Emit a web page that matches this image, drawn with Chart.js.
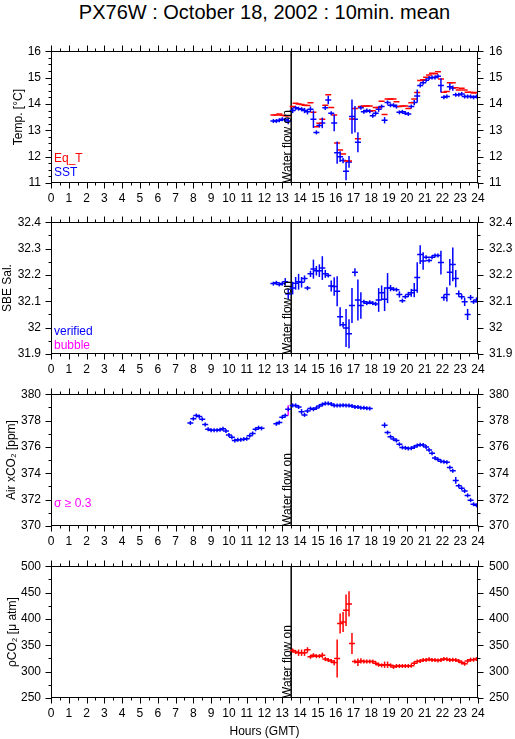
<!DOCTYPE html>
<html>
<head>
<meta charset="utf-8">
<script src="https://cdn.jsdelivr.net/npm/chart.js@4.4.1/dist/chart.umd.min.js"></script>
<style>
  body { margin: 0; background: #fff; width: 515px; height: 739px; position: relative; overflow: hidden;
         font-family: "Liberation Sans", Arial, sans-serif; }
  canvas { position: absolute; left: 0; }
  #title { position: absolute; left: 51px; width: 427px; top: 0; text-align: center; font-size: 20px; line-height: 24px; }
</style>
</head>
<body>
<div id="title">PX76W : October 18, 2002 : 10min. mean</div>
<canvas id="temp" width="515" height="174" style="top:33px"></canvas>
<canvas id="sal" width="515" height="174" style="top:204px"></canvas>
<canvas id="air" width="515" height="174" style="top:376px"></canvas>
<canvas id="pco2" width="515" height="191" style="top:548px"></canvas>
<script>
// times are minutes GMT (10 min means)
const tsTime = [750, 760, 770, 780, 790, 800,
  815, 825, 835, 845, 855, 865, 875, 885, 895, 905, 915, 925, 935, 945, 955, 965, 975, 985, 995, 1005,
  1015, 1025, 1035, 1045, 1055, 1065, 1075, 1085, 1095, 1105, 1115, 1125, 1135, 1145, 1155, 1165, 1175, 1185,
  1195, 1205, 1215, 1225, 1235, 1245, 1255, 1265, 1275, 1285, 1295, 1305, 1315, 1325, 1335, 1345, 1355, 1365,
  1375, 1385, 1395, 1405, 1415, 1425, 1435];

const sst = [13.35, 13.35, 13.38, 13.42, 13.40, 13.35,
  13.75, 13.85, 13.82, 13.80, 13.75, 13.70, 13.80, 13.42, 12.92, 13.18,
  13.28, 13.85, 14.15, 13.65, 13.28, 12.15, 12.00, 11.85, 11.45, 11.80,
  13.52, 13.42, 12.55, 13.85, 13.70, 13.75, 13.72, 13.55, 13.65, 13.80,
  13.90, 13.38, 14.05, 13.95, 13.95, 13.90, 13.68, 13.70, 13.65, 13.62,
  13.90, 14.05, 14.30, 14.70, 14.80, 14.90, 14.98, 15.00, 15.00, 15.05,
  14.70, 14.25, 14.28, 14.65, 14.60, 14.35, 14.35, 14.38, 14.28, 14.28,
  14.28, 14.25, 14.28];
const sstErr = [0, 0, 0, 0, 0, 0.12,
  0.1, 0, 0, 0.08, 0.1, 0.1, 0.1, 0.33, 0, 0,
  0.2, 0.08, 0.16, 0, 0.32, 0.42, 0.2, 0.1, 0.35, 0.22,
  0.65, 0.5, 0.38, 0, 0, 0, 0, 0.06, 0, 0.1,
  0, 0.12, 0.08, 0, 0, 0, 0, 0, 0, 0,
  0, 0.1, 0.25, 0.08, 0, 0, 0, 0, 0, 0,
  0.27, 0, 0, 0.13, 0.1, 0, 0, 0, 0, 0,
  0, 0, 0];
const eqT = [13.58, 13.58, 13.62, 13.57, 13.55, 13.55,
  13.90, 14.03, 14.00, 13.98, 13.95, 13.94, 14.04, 13.68, 13.13, 13.27,
  13.42, 13.95, 14.35, 13.86, 13.58, 12.52, 12.25, 12.10, 11.83, 11.83,
  13.43, 13.83, 12.68, 13.90, 13.92, 13.92, 13.92, 13.74, 13.86, 13.86,
  14.10, 13.60, 14.19, 14.19, 14.19, 14.08, 13.90, 13.92, 13.92, 13.83,
  14.04, 14.19, 14.43, 14.89, 14.92, 15.01, 15.10, 15.16, 15.14, 15.22,
  14.95, 14.44, 14.47, 14.80, 14.80, 14.61, 14.53, 14.59, 14.53, 14.44,
  14.44, 14.41, 14.43];

const sal = [32.167, 32.170, 32.164, 32.167, 32.174, 32.128,
  32.150, 32.168, 32.174, 32.172, 32.186, 32.150, 32.204, 32.222, 32.216, 32.216,
  32.226, 32.204, 32.198, 32.158, 32.156, 32.138, 32.041, 32.011, 31.999, 31.977,
  32.084, 32.210, 32.105, 32.084, 32.098, 32.093, 32.096, 32.093, 32.090, 32.105,
  32.132, 32.108, 32.150, 32.150, 32.146, 32.144, 32.126, 32.102, 32.117, 32.126,
  32.132, 32.142, 32.190, 32.277, 32.253, 32.267, 32.255, 32.267, 32.274, 32.274,
  32.247, 32.114, 32.126, 32.210, 32.240, 32.186, 32.129, 32.117, 32.098, 32.050,
  32.114, 32.098, 32.105];
const salErr = [0, 0, 0, 0, 0.014, 0.02,
  0.024, 0.024, 0.03, 0.02, 0.012, 0.008, 0.012, 0.036, 0.018, 0.024,
  0.045, 0.015, 0, 0.021, 0.035, 0.057, 0.036, 0.01, 0.072, 0.055,
  0.066, 0.015, 0.078, 0.05, 0, 0, 0, 0, 0.008, 0.045,
  0.028, 0.045, 0.057, 0.012, 0, 0, 0.012, 0.008, 0, 0.01,
  0.015, 0.027, 0.058, 0.036, 0.033, 0, 0, 0, 0, 0,
  0.045, 0.012, 0.027, 0.05, 0.064, 0.033, 0.012, 0.01, 0.016, 0.021,
  0.01, 0.008, 0.01];

const airTime = [470, 480, 490, 500, 510, 520, 530, 540, 550, 560, 570, 580, 590, 600, 610, 620, 630, 640,
  650, 660, 670, 680, 690, 700, 710,
  760, 770, 780, 790, 800,
  815, 825, 835, 845, 855, 865, 875, 885, 895, 905, 915, 925, 935, 945, 955, 965, 975, 985, 995, 1005,
  1015, 1025, 1035, 1045, 1055, 1065, 1075,
  1125, 1135, 1145, 1155, 1165, 1175, 1185, 1195, 1205, 1215, 1225, 1235, 1245, 1255, 1265, 1275, 1285,
  1295, 1305, 1315, 1325, 1335, 1345, 1355, 1365, 1375, 1385, 1395, 1405, 1415, 1425, 1435];
const airCO2 = [377.82, 378.14, 378.38, 378.30, 378.10, 377.70, 377.34, 377.26, 377.26, 377.26, 377.30, 377.38,
  377.20, 376.90, 376.73, 376.49, 376.54, 376.54, 376.59, 376.62, 376.85, 377.02, 377.34, 377.46, 377.41,
  377.75, 377.85, 378.26, 378.38, 378.86,
  379.15, 379.15, 379.03, 378.67, 378.43, 378.72, 378.91, 378.86, 378.96, 379.10, 379.22, 379.30, 379.30,
  379.25, 379.15, 379.15, 379.15, 379.17, 379.15, 379.15, 379.10, 379.03, 379.03, 378.98, 378.98, 378.93, 378.91,
  377.65, 377.09, 376.78, 376.61, 376.49, 376.20, 375.96, 375.93, 375.88, 375.90, 376.00, 376.10, 376.17,
  376.15, 376.00, 375.76, 375.52, 375.16, 375.04, 374.92, 374.87, 374.84, 374.43, 374.19, 373.46, 373.05,
  372.86, 372.66, 372.32, 371.96, 371.65, 371.57];
const airErr = [0, 0, 0, 0, 0, 0.15, 0, 0, 0, 0, 0, 0, 0, 0, 0, 0, 0, 0, 0, 0, 0, 0, 0, 0, 0,
  0, 0, 0, 0, 0,
  0, 0, 0, 0.2, 0, 0, 0, 0, 0, 0, 0, 0, 0, 0, 0, 0, 0, 0, 0, 0, 0, 0, 0, 0, 0, 0, 0,
  0.2, 0.1, 0, 0, 0, 0, 0, 0, 0, 0, 0, 0, 0, 0, 0, 0, 0, 0, 0, 0, 0, 0, 0.1, 0, 0.25, 0,
  0, 0, 0.12, 0.1, 0, 0];
// sigma >= 0.3 flagged
const airSigTime = [800];
const airSigCO2 = [378.77];
const airSigErr = [0.39];

const pco2Time = tsTime.slice(6);
const pco2 = [340.1, 337.1, 335.9, 335.9, 335.9, 341.3, 328.1, 331.1, 329.3, 329.3,
  331.1, 323.9, 322.1, 320.3, 317.3, 325.1, 391.2, 394.2, 416.5, 428.5,
  353.4, 319.1, 317.9, 320.3, 319.1, 319.1, 319.1, 319.1, 316.1, 313.1,
  311.9, 313.1, 313.1, 311.9, 308.9, 310.7, 310.7, 310.7, 310.7, 310.7,
  311.3, 316.1, 319.1, 320.3, 322.1, 322.1, 323.3, 322.1, 322.1, 320.9,
  322.1, 323.9, 323.3, 322.1, 322.7, 322.1, 320.3, 317.3, 314.9, 320.3,
  322.7, 322.7, 323.9];
const pco2Err = [4, 2, 6, 6, 6, 5, 0, 0, 0, 0,
  5, 4, 0, 0, 5, 36, 19, 19, 30, 24,
  20, 3, 7, 5, 0, 0, 0, 0, 0, 0,
  0, 6, 6, 0, 0, 0, 0, 0, 0, 0,
  0, 0, 0, 0, 0, 0, 0, 0, 0, 0,
  0, 0, 0, 0, 0, 4, 0, 0, 0, 0,
  0, 0, 0];

const FLOW_ON = 13.5;
const FONT = '"Liberation Sans", Arial, sans-serif';
const RED = '#ff0000', BLUE = '#0000ff', MAGENTA = '#ff00ff';

Chart.defaults.font.family = FONT;
Chart.defaults.font.size = 12;
Chart.defaults.color = '#000';

function series(times, vals, err, color, opts = {}) {
  return {
    data: times.map((t, i) => ({ x: t / 60, y: vals[i] })),
    err, errColor: opts.errColor || color, minHalf: opts.minHalf ?? 2,
    showLine: false, pointStyle: 'line', pointRadius: opts.noDash ? 0 : 3,
    pointBorderColor: color, pointBorderWidth: 1.5,
  };
}

const errorBars = {
  id: 'errorBars',
  afterDatasetsDraw(chart) {
    const { ctx, scales: { x, y } } = chart;
    ctx.save();
    ctx.lineWidth = 1.5;
    chart.data.datasets.forEach(ds => {
      if (!ds.err && !ds.minHalf) return;
      ctx.strokeStyle = ds.errColor;
      ds.data.forEach((p, i) => {
        const px = x.getPixelForValue(p.x), py = y.getPixelForValue(p.y);
        const e = ds.err ? ds.err[i] : 0;
        const half = Math.max(Math.abs(y.getPixelForValue(p.y + e) - py), ds.minHalf || 0);
        if (!half) return;
        ctx.beginPath(); ctx.moveTo(px, py - half); ctx.lineTo(px, py + half); ctx.stroke();
      });
    });
    ctx.restore();
  }
};

// frame and outward major/minor ticks on all four sides
const frame = {
  id: 'frame',
  afterDraw(chart, args, o) {
    const { ctx, chartArea: a, scales: { x, y } } = chart;
    const L = Math.round(a.left) + 0.5, R = Math.round(a.right) - 0.5;
    const T = Math.round(a.top) + 0.5, B = Math.round(a.bottom) - 0.5;
    ctx.save();
    ctx.strokeStyle = '#000'; ctx.lineWidth = 1;
    ctx.strokeRect(L, T, R - L, B - T);
    const walk = (min, max, minor, major, fn) => {
      const n = Math.round((max - min) / minor);
      for (let k = 0; k <= n; k++) {
        const v = min + k * minor, r = v / major;
        fn(v, Math.abs(r - Math.round(r)) < 1e-6 ? 6 : 3);
      }
    };
    ctx.beginPath();
    walk(0, 24, 0.5, 1, (v, len) => {
      const px = Math.round(x.getPixelForValue(v)) + 0.5;
      ctx.moveTo(px, T); ctx.lineTo(px, T - len);
      ctx.moveTo(px, B); ctx.lineTo(px, B + len);
    });
    walk(y.min, y.max, o.yMinor, o.yMajor, (v, len) => {
      const py = Math.round(y.getPixelForValue(v)) + 0.5;
      ctx.moveTo(L, py); ctx.lineTo(L - len, py);
      ctx.moveTo(R, py); ctx.lineTo(R + len, py);
    });
    ctx.stroke();
    ctx.restore();
  }
};

const notes = {
  id: 'notes',
  afterDraw(chart, args, o) {
    const { ctx, chartArea: a, scales: { x } } = chart;
    ctx.save();
    ctx.font = '12px ' + FONT;
    ctx.textBaseline = 'middle';
    (o.lines || []).forEach(([text, color, dy]) => {
      ctx.fillStyle = color;
      ctx.fillText(text, a.left + 3, a.bottom - dy);
    });
    const fx = Math.round(x.getPixelForValue(FLOW_ON));
    ctx.translate(fx, a.bottom);
    ctx.rotate(-Math.PI / 2);
    ctx.textBaseline = 'alphabetic';
    ctx.fillStyle = '#000';
    ctx.fillText('Water flow on', 0, 0);
    ctx.restore();
  }
};

const label = v => String(Number(v.toFixed(3)));

function panel(id, cfg) {
  const flowLine = {
    type: 'line', data: [{ x: FLOW_ON, y: cfg.min }, { x: FLOW_ON, y: cfg.max }],
    borderColor: '#000', borderWidth: 1.5, pointRadius: 0, showLine: true,
  };
  const yAxis = (position, width, padding) => ({
    type: 'linear', min: cfg.min, max: cfg.max, position,
    grid: { display: false, drawTicks: false }, border: { display: false },
    ticks: { stepSize: cfg.major, padding, autoSkip: false, callback: label },
    afterFit: s => { s.width = width; },
  });
  const y = yAxis('left', 51, 10);
  y.title = { display: true, text: cfg.yTitle, padding: { top: cfg.titlePad, bottom: 0 } };
  return new Chart(document.getElementById(id), {
    type: 'scatter',
    data: { datasets: [...cfg.datasets, flowLine] },
    options: {
      animation: false, responsive: false, devicePixelRatio: 1,
      layout: { padding: { top: 12, left: 0, right: 0, bottom: 0 } },
      plugins: {
        legend: { display: false }, tooltip: { enabled: false },
        frame: { yMinor: cfg.minor, yMajor: cfg.major },
        notes: { lines: cfg.notes },
      },
      scales: {
        x: {
          type: 'linear', min: 0, max: 24, position: 'bottom',
          grid: { display: false, drawTicks: false }, border: { display: false },
          ticks: { stepSize: 1, autoSkip: false, maxRotation: 0, padding: 8 },
          title: cfg.xTitle ? { display: true, text: cfg.xTitle, padding: { top: 0, bottom: 0 } } : { display: false },
          afterFit: s => { s.height = cfg.xHeight || 24; },
        },
        y,
        y2: yAxis('right', 37, 11),
      },
    },
    plugins: [errorBars, frame, notes],
  });
}

panel('temp', {
  min: 11, max: 16, major: 1, minor: 0.25, yTitle: 'Temp. [°C]', titlePad: 11,
  notes: [['Eq_T', RED, 24], ['SST', BLUE, 10]],
  datasets: [
    series(tsTime, eqT, null, RED, { minHalf: 0 }),
    series(tsTime, sst, sstErr, BLUE),
  ],
});

panel('sal', {
  min: 31.9, max: 32.4, major: 0.1, minor: 0.05, yTitle: 'SBE Sal.', titlePad: 0,
  notes: [['verified', BLUE, 22], ['bubble', MAGENTA, 8]],
  datasets: [series(tsTime, sal, salErr, BLUE)],
});

panel('air', {
  min: 370, max: 380, major: 2, minor: 1, yTitle: 'Air xCO₂ [ppm]', titlePad: 4,
  notes: [['σ ≥ 0.3', MAGENTA, 22]],
  datasets: [
    series(airSigTime, airSigCO2, airSigErr, MAGENTA, { noDash: true, minHalf: 0 }),
    series(airTime, airCO2, airErr, BLUE),
  ],
});

panel('pco2', {
  min: 250, max: 500, major: 50, minor: 25, yTitle: 'ρCO₂ [μ atm]', titlePad: 5,
  xTitle: 'Hours (GMT)', xHeight: 41, notes: [],
  datasets: [series(pco2Time, pco2, pco2Err, RED)],
});
</script>
</body>
</html>
